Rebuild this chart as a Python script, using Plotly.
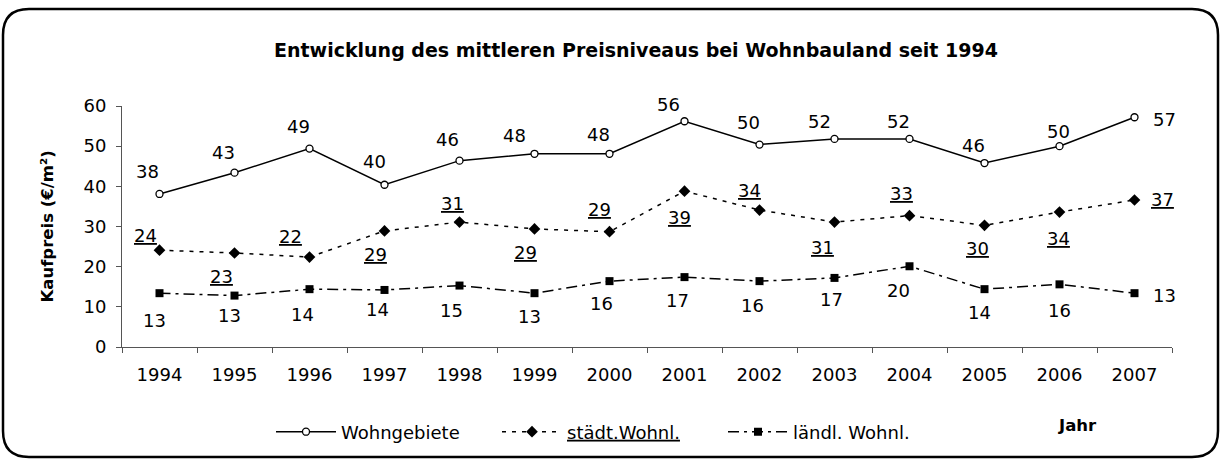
import plotly.graph_objects as go

# Daten
jahre = [str(j) for j in range(1994, 2008)]
wohngebiete = [38.1, 43.4, 49.4, 40.4, 46.4, 48.1, 48.1, 56.2, 50.4, 51.8, 51.8, 45.8, 50.0, 57.2]
staedt = [24.1, 23.4, 22.4, 28.9, 31.1, 29.4, 28.7, 38.8, 34.1, 31.1, 32.7, 30.3, 33.6, 36.6]
laendl = [13.4, 12.8, 14.4, 14.2, 15.3, 13.4, 16.4, 17.4, 16.4, 17.2, 20.1, 14.4, 15.6, 13.4]

# Lage der Datenbeschriftungen (Pixelversatz dx, dy nach unten)
off_w = [(-12, -24), (-11, -22), (-11, -24), (-10, -25), (-12, -23), (-20, -20), (-11, -21),
         (-16, -19), (-11, -24), (-15, -19), (-11, -19), (-11, -20), (-1, -17), (30, 0)]
off_s = [(-14, -17), (-13, 21), (-19, -23), (-9, 22), (-7, -21), (-9, 22), (-10, -24),
         (-5, 24), (-10, -22), (-12, 23), (-8, -24), (-7, 21), (-1, 24), (28, -2)]
off_l = [(-5, 25), (-5, 18), (-7, 23), (-7, 18), (-8, 23), (-5, 21), (-8, 20),
         (-7, 21), (-7, 22), (-3, 20), (-11, 22), (-5, 21), (0, 24), (30, 0)]

FONT = "DejaVu Sans"
W, H = 1222, 461
L, R, T, B = 122, 50, 106, 114

fig = go.Figure()
fig.add_trace(go.Scatter(x=jahre, y=wohngebiete, mode="lines+markers", name="Wohngebiete",
                         line=dict(color="black", width=1.5),
                         marker=dict(symbol="circle", size=7, color="white",
                                     line=dict(color="black", width=1.3))))
fig.add_trace(go.Scatter(x=jahre, y=staedt, mode="lines+markers", name="<u>städt.Wohnl.</u>",
                         line=dict(color="black", width=1.5, dash="4px,6px"),
                         marker=dict(symbol="diamond", size=9, color="black")))
fig.add_trace(go.Scatter(x=jahre, y=laendl, mode="lines+markers", name="ländl. Wohnl.",
                         line=dict(color="black", width=1.5, dash="11px,5px,3px,5px"),
                         marker=dict(symbol="square", size=8, color="black")))

ann = []
for werte, offs, unter in [(wohngebiete, off_w, False), (staedt, off_s, True), (laendl, off_l, False)]:
    for i, (v, (dx, dy)) in enumerate(zip(werte, offs)):
        t = str(round(v))
        if unter:
            t = "<u>" + t + "</u>"
        ann.append(dict(x=i, y=v, text=t, showarrow=False, xanchor="center", yanchor="middle",
                        xshift=dx, yshift=-dy - 2, font=dict(family=FONT, size=18, color="black")))

ann.append(dict(xref="paper", yref="paper", x=0, y=0.5, xshift=-75, text="<b>Kaufpreis (€/m²)</b>",
                textangle=-90, showarrow=False, xanchor="center", yanchor="middle",
                font=dict(family=FONT, size=16.5, color="black")))
ann.append(dict(xref="paper", yref="paper", x=(1077 - L) / (W - L - R), y=0, yshift=-78,
                text="<b>Jahr</b>", showarrow=False, xanchor="center", yanchor="middle",
                font=dict(family=FONT, size=16.5, color="black")))

# abgerundeter Rahmen (in Pixeln, umgerechnet auf paper)
pw, ph = W - L - R, H - T - B
def px(x):
    return (x - L) / pw
def py(y):
    return (H - B - y) / ph
x0, x1, y0, y1, r = 3, 1218, 9, 457, 26
pfad = (f"M {px(x0 + r)},{py(y0)} L {px(x1 - r)},{py(y0)} Q {px(x1)},{py(y0)} {px(x1)},{py(y0 + r)} "
        f"L {px(x1)},{py(y1 - r)} Q {px(x1)},{py(y1)} {px(x1 - r)},{py(y1)} "
        f"L {px(x0 + r)},{py(y1)} Q {px(x0)},{py(y1)} {px(x0)},{py(y1 - r)} "
        f"L {px(x0)},{py(y0 + r)} Q {px(x0)},{py(y0)} {px(x0 + r)},{py(y0)} Z")

fig.update_layout(
    width=W, height=H,
    margin=dict(l=L, r=R, t=T, b=B, autoexpand=False),
    paper_bgcolor="white", plot_bgcolor="white",
    font=dict(family=FONT, size=18, color="black"),
    title=dict(text="<b>Entwicklung des mittleren Preisniveaus bei Wohnbauland seit 1994</b>",
               x=636 / W, xanchor="center", y=1 - 50 / H, yanchor="middle", yref="container",
               font=dict(family=FONT, size=19, color="black")),
    showlegend=True,
    legend=dict(orientation="h", x=px(271), xanchor="left", y=py(432), yanchor="middle",
                font=dict(family=FONT, size=18, color="black"), itemwidth=60,
                entrywidth=151, bgcolor="rgba(0,0,0,0)"),
    annotations=ann,
    shapes=[dict(type="path", xref="paper", yref="paper", path=pfad,
                 line=dict(color="black", width=2.5))],
)
fig.update_xaxes(type="category", range=[-0.5, 13.5], tickson="boundaries", ticks="outside", ticklen=5,
                 showline=True, linecolor="#555", linewidth=1, tickcolor="#555", tickangle=0,
                 showgrid=False, zeroline=False, ticklabelstandoff=11, automargin=False)
fig.update_yaxes(range=[0, 60], dtick=10, ticks="outside", ticklen=5,
                 showline=True, linecolor="#555", linewidth=1, tickcolor="#555",
                 showgrid=False, zeroline=False, ticklabelstandoff=6, automargin=False)

fig.write_html("out.html", config={"displayModeBar": False},
               post_script="document.body.style.margin = '0';")
